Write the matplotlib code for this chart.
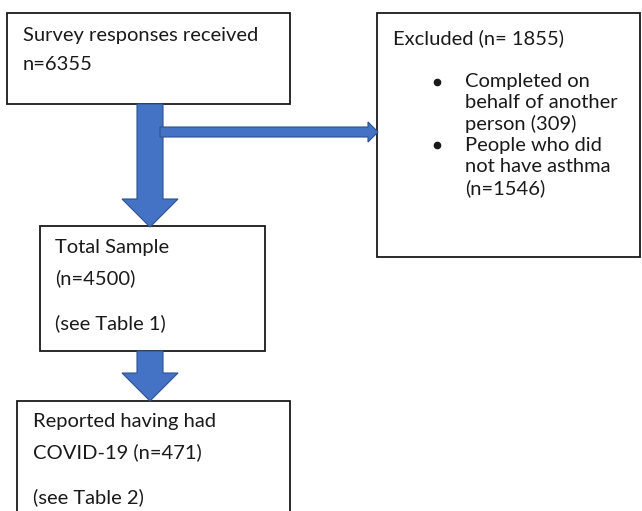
import matplotlib
matplotlib.use("Agg")
import matplotlib.pyplot as plt
from matplotlib.patches import Rectangle, Polygon

# ---- content ----
received_label = "Survey responses received"
received_n = 6355
excluded_n = 1855
excluded_reasons = ["Completed on behalf of another person (309)",
                    "People who did not have asthma (n=1546)"]
excluded_lines = [["Completed on", "behalf of another", "person (309)"],
                  ["People who did", "not have asthma", "(n=1546)"]]
total_n = 4500
covid_n = 471

W, H = 642, 511
fig = plt.figure(figsize=(W / 100, H / 100), dpi=100)
ax = fig.add_axes([0, 0, 1, 1])
ax.set_xlim(0, W)
ax.set_ylim(H, 0)
ax.axis("off")

FONT = "Lato"
FS = 14.5
BLUE = "#4472C4"
EDGE = "#2F528F"

def box(x0, y0, x1, y1):
    ax.add_patch(Rectangle((x0, y0), x1 - x0, y1 - y0, fill=True, fc="white",
                           ec="#1a1a1a", lw=1.3, zorder=2))

def txt(x, y, s):
    ax.text(x, y, s, fontsize=FS, family=FONT, va="center", ha="left",
            color="#1a1a1a", zorder=5)

def down_arrow(cx, y0, y1, half_shaft=13, half_head=28, head_len=28):
    pts = [(cx - half_shaft, y0), (cx + half_shaft, y0),
           (cx + half_shaft, y1 - head_len), (cx + half_head, y1 - head_len),
           (cx, y1), (cx - half_head, y1 - head_len),
           (cx - half_shaft, y1 - head_len)]
    ax.add_patch(Polygon(pts, closed=True, fc=BLUE, ec=EDGE, lw=0.8, zorder=3))

def right_arrow(x0, x1, cy, half_shaft=5, half_head=10, head_len=10):
    pts = [(x0, cy - half_shaft), (x1 - head_len, cy - half_shaft),
           (x1 - head_len, cy - half_head), (x1, cy),
           (x1 - head_len, cy + half_head), (x1 - head_len, cy + half_shaft),
           (x0, cy + half_shaft)]
    ax.add_patch(Polygon(pts, closed=True, fc=BLUE, ec=EDGE, lw=0.8, zorder=3))

# boxes
box(7, 13, 290, 104)
box(377, 13, 640, 257)
box(40, 226, 265, 351)
box(17, 401, 290, 520)

# arrows
down_arrow(150, 104, 227)
right_arrow(160, 378, 132)
down_arrow(150, 351, 401)

# texts
txt(23, 35, received_label)
txt(23, 65, f"n={received_n}")

txt(393, 38, f"Excluded (n= {excluded_n})")
ys = [82, 103, 124, 145, 167, 188]
k = 0
for lines in excluded_lines:
    ax.plot([437], [ys[k]], marker="o", ms=4.5, color="#1a1a1a", zorder=5)
    for ln in lines:
        txt(465, ys[k], ln)
        k += 1

txt(55, 248, "Total Sample")
txt(55, 278, f"(n={total_n})")
txt(55, 323, "(see Table 1)")

txt(33, 422, "Reported having had")
txt(33, 452, f"COVID-19 (n={covid_n})")
txt(33, 497, "(see Table 2)")

fig.savefig("out.png", dpi=100, facecolor="white")
